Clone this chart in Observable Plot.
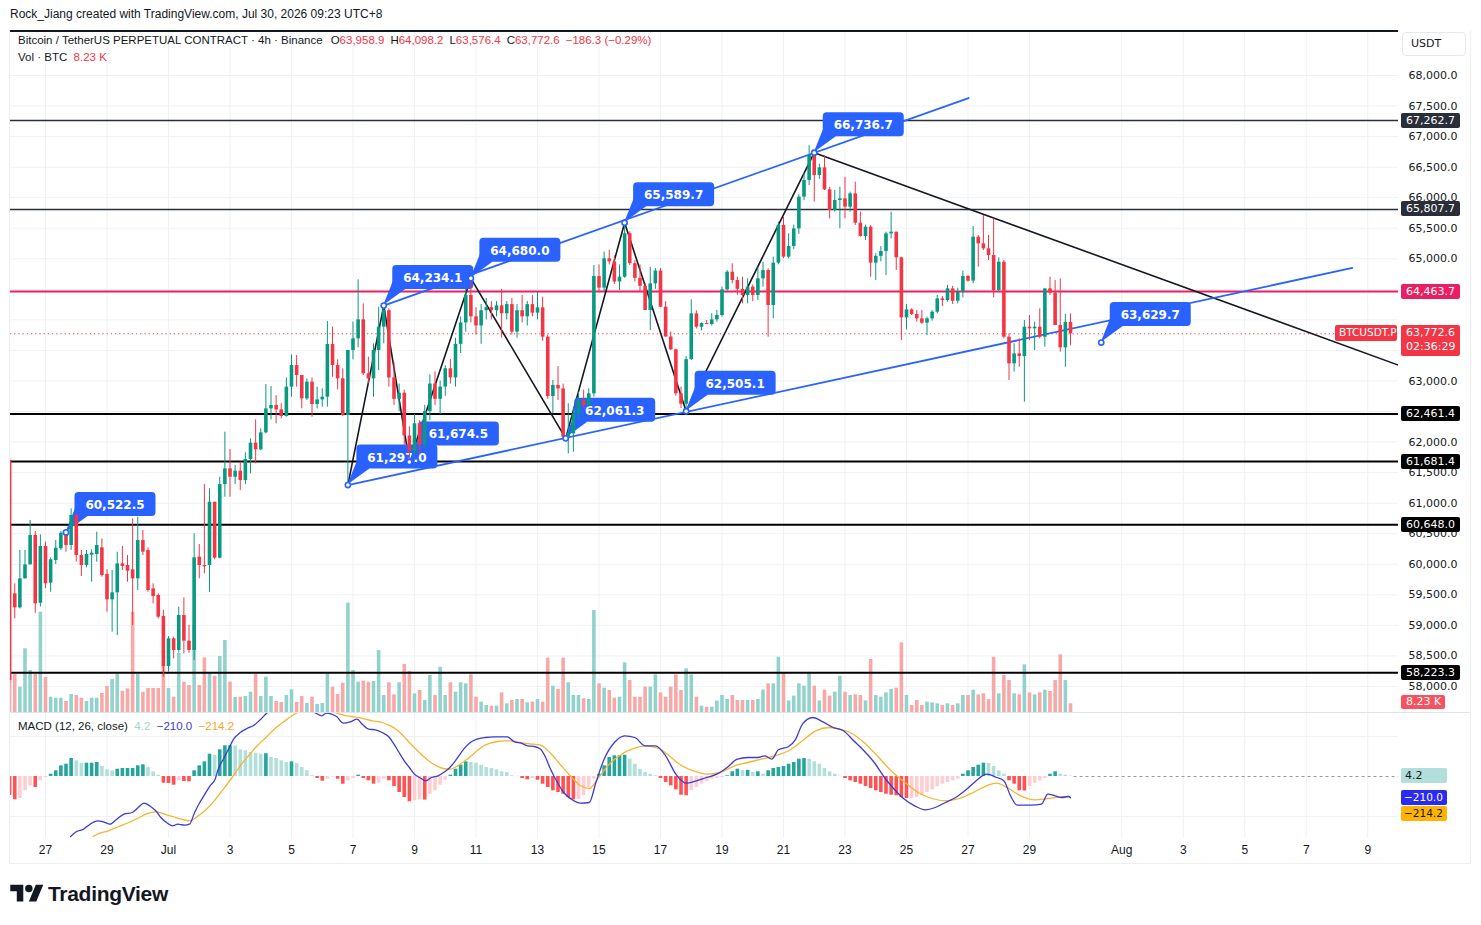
<!DOCTYPE html>
<html><head><meta charset="utf-8">
<script src="https://cdn.jsdelivr.net/npm/d3@7"></script>
<script src="https://cdn.jsdelivr.net/npm/@observablehq/plot@0.6"></script>
<style>
 html,body{margin:0;padding:0;background:#fff;}
 #root{position:relative;width:1481px;height:925px;overflow:hidden;font-family:"Liberation Sans",Arial,sans-serif;color:#131722;}
 .layer{position:absolute;left:0;}
 .txt{position:absolute;white-space:nowrap;}
 .r{color:#f23645;}
 .g{margin-left:6px;}
 .tag{position:absolute;box-sizing:border-box;font-family:"DejaVu Sans",sans-serif;font-size:11px;line-height:15px;padding-left:5px;border-radius:2px;white-space:nowrap;overflow:hidden;}
</style></head>
<body><div id="root"></div>
<script>
// ---------------- DATA ----------------
// 4h candles, index 0 = Jun 25 20:00 (chart time, UTC+8)
const opens = [
61700,59516,59287,59762,59991,60471,59363,60291,59691,60062,
60253,60509,60308,60799,60144,59980,60149,60160,60270,59833,
59418,59533,60007,59980,59909,59762,60389,60226,59598,59489,
59145,58327,58780,58589,59162,58742,58589,60116,59980,59980,
61016,60100,61305,61562,61425,61524,61371,61715,61982,61873,
62151,62544,62599,62528,62419,62899,63253,63090,62708,62981,
62615,62691,62735,63597,63253,63035,62435,63499,63690,64001,
63117,63035,63499,63881,64150,63050,62700,62800,62100,61850,
62300,61950,62500,62950,62700,62900,63200,63050,63600,63950,
64400,64050,63900,64150,64200,64150,64230,64100,64250,63800,
64150,64050,64250,64110,64197,63717,62746,62926,62870,62080,
62135,62462,62680,62600,62790,64710,64520,65000,64950,64620,
64700,65410,64920,64680,64550,64154,64590,64800,64208,63720,
63510,62790,62620,63350,64099,63880,63940,63925,64001,64072,
64492,64781,64645,64500,64399,64536,64399,64672,64808,64236,
64929,65545,65027,65201,65490,66009,66282,66691,66363,66489,
66129,65791,65954,65981,65845,66063,65583,65365,65518,64929,
65040,65120,65408,65436,65016,64033,64164,64088,64017,63946,
64017,64126,64344,64317,64508,64306,64450,64710,64634,65354,
65245,65163,65054,64481,64945,63717,63281,63444,63400,63881,
63854,63881,63717,64508,64437,63908,63542,63958.9];
const highs = [
61750,59680,60226,60226,60717,60536,60482,60362,60105,60389,
60536,60526,60908,60826,60226,60226,60237,60526,60417,59909,
59898,60198,60291,60144,60744,60771,60553,60269,59680,59516,
59243,58818,58807,59298,59451,58998,60498,60324,61305,61235,
61016,61425,62162,61878,61617,61671,61824,62053,62364,62217,
62942,62910,62762,62626,63051,63428,63417,63090,63035,63051,
62899,62872,63974,63881,63346,63199,63499,63963,64656,64262,
63390,63608,64208,64234,64180,63300,62950,62850,62250,62450,
62350,62600,63100,63150,63000,63250,63350,63700,64050,64500,
64680,64200,64250,64350,64300,64300,64500,64300,64350,64250,
64400,64300,64400,64450,64372,63750,63008,63237,62950,62626,
62571,62817,62850,62871,64890,64900,65110,65140,65050,64900,
65590,65440,64970,64900,64600,64863,64840,64840,64300,63800,
63520,62900,63400,64328,64150,63950,63990,64100,64154,64536,
64808,64918,64700,64699,64672,64570,64863,64945,64836,65027,
65600,65682,65409,65550,66050,66400,66850,66737,66550,66691,
66172,66118,66172,66336,66091,66254,65763,65550,65545,65080,
65200,65436,65763,65436,65027,64252,64181,64154,64154,64045,
64154,64399,64383,64563,64547,64520,64797,64726,65528,65381,
65709,65381,65654,65016,64972,63772,63608,63690,63990,64072,
63963,64181,64508,64699,64645,64672,64088,64098.2];
const lows = [
58050,59107,59270,59760,59990,59200,59300,59600,59544,59996,
60226,60198,60226,60035,59800,59942,59707,60035,59789,59216,
58889,58834,59898,59707,59000,59571,60144,59544,59353,59107,
58152,58234,58452,58545,58534,58545,58425,59762,59844,59543,
60073,60089,61098,61098,61305,61207,61305,61480,61644,61862,
62135,62364,62299,62381,62408,62735,62899,62544,62681,62408,
62544,62571,62571,63062,62855,62419,61297,63346,63543,63090,
62953,62735,63172,63608,62900,62600,62500,61950,61674,61750,
61800,61900,62350,62600,62450,62750,62950,62900,63450,63800,
63950,63750,63600,64000,64000,64050,63700,64000,63750,63700,
63950,63900,64050,64000,63650,62700,62462,62680,62061,61807,
61834,62353,62550,62571,62735,64450,64450,64900,64580,64480,
64680,64890,64620,64450,64150,63826,64500,64200,63717,63500,
62750,62550,62505,63335,63850,63820,63920,63900,63963,64045,
64470,64590,64400,64263,64263,64300,64317,64536,63717,64017,
64900,65000,65000,65150,65400,65950,66200,65927,66300,66118,
65654,65763,65491,65654,65763,65545,65354,65300,64699,64645,
64950,64726,65327,64808,63662,63837,64072,63963,63924,63744,
63980,64099,64219,64290,64252,64260,64361,64617,64590,64863,
65136,64972,64361,64470,63690,63008,63144,63226,62653,63662,
63499,63690,63553,64399,63908,63471,63226,63576.4];
const closes = [
58100,59287,59762,59991,60471,59353,60291,59680,60073,60264,
60509,60308,60799,60144,59980,60160,60182,60308,59816,59418,
59533,60007,59964,59887,59762,60389,60198,59571,59473,59135,
58327,58780,58589,59162,58742,58589,60106,59980,59960,61016,
60100,61305,61562,61425,61524,61371,61715,61982,61873,62151,
62544,62599,62528,62419,62899,63253,63090,62708,62981,62615,
62691,62735,63597,63253,63035,62435,63499,63690,64001,63117,
63035,63499,63881,64153,63050,62700,62800,62100,61850,62300,
61950,62500,62950,62700,62900,63200,63050,63600,63950,64400,
64050,63900,64150,64200,64150,64230,64100,64250,63800,64150,
64050,64250,64110,64197,63717,62746,62926,62870,62080,62135,
62462,62680,62600,62790,64710,64520,65000,64950,64620,64700,
65410,64920,64680,64550,64154,64590,64800,64208,63720,63510,
62790,62620,63350,64099,63880,63940,63925,64001,64072,64492,
64781,64645,64500,64399,64536,64399,64672,64808,64236,64929,
65545,65027,65201,65490,66009,66282,66691,66363,66489,66129,
65791,65954,65981,65845,66063,65583,65365,65518,64929,65040,
65120,65408,65436,65016,64033,64164,64088,64017,63946,64017,
64126,64344,64317,64508,64306,64450,64710,64634,65354,65245,
65163,65054,64481,64945,63717,63281,63444,63400,63881,63854,
63881,63717,64508,64437,63908,63542,63958.9,63772.6];
// volume, thousands of BTC
const volumes = [
36.9,35.9,23.9,60.3,39.7,35.9,94.9,33.1,14.5,13.5,
13.5,10.4,17.0,16.1,13.5,10.4,13.5,13.5,18.0,24.6,
31.2,35.9,20.1,22.4,94.9,35.9,19.2,22.7,22.7,22.7,
44.5,22.7,14.5,55.8,28.7,25.5,82.3,25.5,51.7,36.6,
34.1,53.0,68.1,28.7,14.2,14.5,15.1,19.2,35.9,15.1,
33.4,15.1,10.4,9.5,16.1,21.5,9.5,15.1,8.5,14.5,
7.6,8.5,36.6,23.9,17.0,27.7,103.4,39.7,28.7,29.6,
28.7,29.3,58.7,16.1,28.1,16.7,28.1,45.4,38.8,17.7,
20.8,11.4,35.0,16.1,42.9,16.1,28.1,19.2,28.1,27.1,
35.6,14.5,9.8,6.6,6.0,6.0,18.6,8.2,11.4,12.3,
12.3,9.1,9.8,12.3,9.8,51.4,24.9,21.8,51.4,28.1,
16.1,16.1,13.0,12.3,96.5,27.1,23.0,20.8,13.6,14.5,
47.0,30.3,14.5,14.5,24.0,24.0,35.6,18.6,14.5,24.0,
35.6,20.8,41.3,35.6,14.5,6.0,5.0,5.0,11.0,16.1,
12.3,16.1,11.4,11.4,11.4,11.4,12.3,21.2,27.1,27.1,
52.3,36.6,11.0,15.5,27.1,24.9,38.1,24.9,11.0,21.2,
15.5,19.2,34.3,19.2,16.1,16.7,16.1,11.0,50.1,16.1,
14.5,18.6,21.8,23.0,65.9,16.1,6.6,11.4,6.6,9.8,
9.1,8.2,6.6,8.2,6.6,8.2,16.1,16.1,21.2,16.7,
17.7,12.3,52.3,17.7,35.0,30.3,17.7,16.7,45.1,18.6,
16.7,18.6,21.2,19.9,30.3,54.6,30.3,8.23];
// MACD histogram per candle
const hist = [
-190,-233,-220,-143,-93,-110,-43,-10,23,57,
107,123,180,157,133,133,133,140,100,67,
57,73,80,80,80,107,117,90,47,13,
-67,-70,-87,-43,-50,-53,57,107,147,223,
213,267,307,307,305,267,257,240,233,223,
228,190,180,157,140,147,133,90,57,7,
-20,-47,-27,-7,-27,-77,-43,-20,13,-20,
-43,-77,-67,-27,-43,-100,-160,-210,-253,-243,
-233,-236,-177,-143,-87,-37,13,73,113,147,
140,133,113,90,80,67,47,40,7,2,
-20,-33,-20,-37,-77,-110,-143,-160,-177,-210,
-233,-230,-193,-110,-27,23,107,190,207,208,
213,173,123,73,40,23,7,-20,-60,-93,
-133,-187,-193,-143,-110,-77,-53,-27,-20,-10,
7,47,73,60,62,40,47,23,57,80,
90,100,123,140,173,180,173,147,123,80,
47,23,3,-20,-43,-60,-77,-100,-120,-143,
-160,-177,-187,-193,-210,-220,-218,-210,-193,-160,
-133,-100,-77,-60,-43,-27,23,57,90,113,
133,130,100,57,23,-43,-77,-143,-145,-100,
-67,-43,-20,23,47,23,13,4.2];
// MACD line, read at candle positions (index) and values
const macdIdx = [11.9,13.0,14.4,15.7,17.2,18.3,19.6,20.9,22.3,23.9,25.1,26.2,27.5,28.5,29.5,30.6,31.8,32.8,34.1,35.1,36.1,37.1,38.1,39.1,40.1,40.7,41.7,42.7,43.7,45.0,46.3,47.7,49.0,50.3,52.5,55.5,58.0,59.5,60.9,61.8,62.8,63.8,65.1,66.5,67.8,68.8,70.1,71.4,72.7,74.1,75.0,76.0,77.0,78.0,79.0,80.0,81.2,82.3,83.6,84.9,85.9,87.2,88.6,89.9,91.2,92.8,94.5,97.1,98.5,99.8,101.1,102.4,103.6,104.5,105.4,106.7,108.1,110.1,111.4,113.1,114.4,116.0,118.0,120.0,122.0,124.0,126.0,128.0,130.0,132.0,134.0,136.0,138.0,140.0,142.0,144.0,146.0,147.4,148.7,150.0,152.0,153.3,154.7,156.7,158.7,160.7,162.7,164.7,166.7,168.7,170.7,172.6,174.6,176.6,178.6,180.6,182.6,184.6,186.6,188.6,190.6,192.6,194.0,195.3,196.6,199.3,201.3,202.6,204.0,205.3,206.6,207];
const macdVal = [-600,-553,-527,-477,-443,-453,-477,-427,-377,-360,-310,-267,-300,-343,-410,-460,-493,-477,-487,-477,-360,-260,-177,-93,-27,73,173,273,373,440,480,513,573,640,700,720,690,640,607,633,623,600,533,547,573,523,473,467,440,390,323,240,157,90,23,-10,-43,-10,7,47,90,173,273,340,373,390,397,397,347,333,307,300,273,200,90,-43,-160,-243,-267,-260,-60,173,340,407,390,307,307,207,23,-67,-43,-10,23,90,173,190,190,207,173,267,300,367,523,590,547,490,457,357,257,140,-10,-127,-227,-293,-333,-310,-260,-210,-133,-43,23,-10,-43,-193,-287,-287,-277,-177,-193,-210,-200,-210];
const signalIdx = [16.3,17.6,19.3,21.3,23.3,24.9,26.6,28.5,30.2,31.8,33.5,35.1,36.8,38.4,40.1,41.7,43.4,45.0,46.7,48.3,50.0,51.6,53.3,54.9,56.2,59.0,62.0,63.5,65.1,66.8,68.1,69.4,70.8,72.7,74.0,75.4,76.7,78.0,79.3,80.6,82.0,83.3,84.6,85.9,87.2,88.6,89.9,91.2,92.5,93.8,95.2,96.5,97.8,99.1,100.4,102.1,103.6,105.4,107.4,109.4,111.4,113.1,114.7,116.7,119.4,121.4,124.0,126.7,128.7,130.7,133.4,136.0,138.7,141.4,144.0,146.7,149.3,152.0,154.7,157.3,160.0,162.0,164.0,166.7,169.3,172.0,174.7,177.3,180.0,182.6,185.3,188.0,190.6,192.6,194.6,197.3,200.0,202.6,206.6,207];
const signalVal = [-600,-567,-543,-500,-460,-420,-377,-353,-377,-400,-427,-443,-393,-327,-233,-127,-10,107,213,307,390,473,540,600,640,680,680,640,613,600,590,573,557,540,513,473,413,340,273,207,147,107,80,73,100,147,200,257,307,333,350,357,357,347,333,323,313,240,123,7,-93,-120,-27,107,223,273,307,280,207,123,57,23,40,107,140,173,207,257,357,457,490,473,440,340,207,57,-60,-160,-220,-243,-220,-160,-93,-67,-110,-193,-233,-220,-200,-214.2];
// horizontal levels
const levelPrices = [67262.7, 65807.7, 64463.7, 62461.4, 61681.4, 60648.0, 58223.3];
// zigzag path (candle index, price)
const zigIdx = [66, 73, 78, 90, 108.5, 120, 132, 157];
const zigPrice = [61297.0, 64234.1, 61674.5, 64680.0, 62061.3, 65589.7, 62505.1, 66736.7];
// price callouts (anchor index, price)
const calloutIdx = [11, 66, 78, 73, 90, 108.5, 120, 132, 157, 213];
const calloutPrice = [60522.5, 61297.0, 61674.5, 64234.1, 64680.0, 62061.3, 65589.7, 62505.1, 66736.7, 63629.7];
// trend lines
const upperIdx = [73, 187.1], upperPrice = [64234.1, 67631];
const lowerIdx = [66, 262], lowerPrice = [61297.0, 64850];
const descIdx = [157, 275], descPrice = [66736.7, 63137];
// axes
const priceTicks = [58000,58500,59000,59500,60000,60500,61000,61500,62000,62500,63000,63500,64000,64500,65000,65500,66000,66500,67000,67500,68000];
const dateTicks = ["2026-06-27","2026-06-29","2026-07-01","2026-07-03","2026-07-05","2026-07-07","2026-07-09","2026-07-11","2026-07-13","2026-07-15","2026-07-17","2026-07-19","2026-07-21","2026-07-23","2026-07-25","2026-07-27","2026-07-29","2026-08-01","2026-08-03","2026-08-05","2026-08-07","2026-08-09"];
const dateLabels = ["27","29","Jul","3","5","7","9","11","13","15","17","19","21","23","25","27","29","Aug","3","5","7","9"];
const lastPrice = 63772.6, lastVol = 8.23, lastHist = 4.2, lastMacd = -210.0, lastSignal = -214.2;

// ---------------- BUILD ----------------
const T0 = Date.UTC(2026, 5, 25, 20);
const H4 = 4 * 3600 * 1000;
const tOf = i => new Date(T0 + i * H4);
const UP = "#089981", DN = "#f23645", BLUE = "#2962ff";
const candles = opens.map((o, i) => ({t: tOf(i), o, h: highs[i], l: lows[i], c: closes[i], v: volumes[i], hist: hist[i], up: closes[i] >= o,
  hcol: hist[i] >= 0 ? (i > 0 && hist[i] < hist[i-1] ? "#b2dfdb" : "#26a69a") : (i > 0 && hist[i] > hist[i-1] ? "#ffcdd2" : "#ff5252")}));
const pts = (idx, val) => idx.map((ix, k) => ({t: tOf(ix), p: val[k]}));
const W = 1481, ML = 10, MR = 83;
const xScale = {type: "utc", domain: [tOf(0.1707), tOf(271.0)], axis: null};
const yPrice = {domain: [58000, 68000], range: [655, 44], axis: null};
const MAINH = 681;
const baseOpts = {width: W, height: MAINH, marginLeft: ML, marginRight: MR, marginTop: 0, marginBottom: 0,
  style: {background: "transparent", overflow: "visible", fontFamily: "DejaVu Sans", fontSize: "11px", color: "#131722"},
  color: {type: "identity"}};
const root = document.getElementById("root");
function addLayer(node, top) { const d = document.createElement("div"); d.className = "layer"; d.style.top = top + "px"; d.appendChild(node); root.appendChild(d); return d; }
function addTxt(html, left, top, css) { const d = document.createElement("div"); d.className = "txt"; d.style.left = left + "px"; d.style.top = top + "px"; if (css) d.style.cssText += css; d.innerHTML = html; root.appendChild(d); return d; }
const fmt = d3.format(",.1f");
const dateVals = dateTicks.map(s => new Date(s + "T00:00:00Z"));
const labelMap = new Map(dateVals.map((d, i) => [+d, dateLabels[i]]));
const GRID = "#eff1f5";
// tick labels hidden behind the last-price tag (as on the source chart)
const labelTicks = priceTicks.filter(p => Math.abs(p - lastPrice) > 300);

// Layer A: grid + price axis
const plotA = Plot.plot({...baseOpts, x: xScale, y: yPrice, marks: [
  Plot.ruleX(dateVals, {stroke: GRID}),
  Plot.ruleY(priceTicks, {stroke: GRID}),
  Plot.axisY(labelTicks, {anchor: "right", tickSize: 0, tickPadding: 10, tickFormat: fmt, label: null, fill: "#131722"})
]});
addLayer(plotA, 31);

// Layer B: volume
const plotB = Plot.plot({...baseOpts, x: xScale, y: {domain: [0, 100], range: [MAINH, MAINH - 100 / 0.946], axis: null}, marks: [
  Plot.ruleX(candles, {x: "t", y1: 0, y2: "v", stroke: d => d.up ? "#92d2cc" : "#f7a9a7", strokeWidth: 3.6, clip: true})
]});
addLayer(plotB, 31);

// Layer C: horizontal levels, trend lines, then callouts on top of the lines
const levelStroke = ["#2a2e39", "#2a2e39", "#e91e63", "#000000", "#000000", "#000000", "#000000"];
const levelWidth = [1.6, 1.6, 2, 2, 2, 2, 2];
const plotC = Plot.plot({...baseOpts, x: xScale, y: yPrice, marks: [
  Plot.ruleY(levelPrices, {stroke: (d, i) => levelStroke[i], strokeWidth: (d, i) => levelWidth[i]}),
  Plot.ruleY([lastPrice], {stroke: DN, strokeDasharray: "1.2,3", strokeWidth: 1}),
  Plot.line(pts(zigIdx, zigPrice), {x: "t", y: "p", stroke: "#131722", strokeWidth: 1.6, clip: true}),
  Plot.line(pts(descIdx, descPrice), {x: "t", y: "p", stroke: "#131722", strokeWidth: 1.6, clip: true}),
  Plot.line(pts(upperIdx, upperPrice), {x: "t", y: "p", stroke: BLUE, strokeWidth: 1.8, clip: true}),
  Plot.line(pts(lowerIdx, lowerPrice), {x: "t", y: "p", stroke: BLUE, strokeWidth: 1.8, clip: true})
]});
addLayer(plotC, 31);
{
  const sx = plotC.scale("x"), sy = plotC.scale("y");
  const g = d3.select(plotC).append("g");
  calloutIdx.forEach((ci, k) => {
    const ax = sx.apply(tOf(ci)), ay = sy.apply(calloutPrice[k]);
    const bx = ax + 9, by = ay - 40, bw = 81, bh = 24;
    g.append("path").attr("d", `M${ax},${ay}L${bx + 1},${by + bh - 9}L${bx + 13},${by + bh}Z`).attr("fill", BLUE);
    g.append("rect").attr("x", bx).attr("y", by).attr("width", bw).attr("height", bh).attr("rx", 4).attr("fill", BLUE);
    g.append("text").attr("x", bx + bw / 2).attr("y", by + bh / 2 + 1).attr("text-anchor", "middle").attr("dominant-baseline", "central")
      .attr("fill", "#fff").attr("font-family", "DejaVu Sans").attr("font-weight", "bold").attr("font-size", 12).text(fmt(calloutPrice[k]));
  });
}

// Layer D: candles + anchor dots
const plotD = Plot.plot({...baseOpts, x: xScale, y: yPrice, marks: [
  Plot.ruleX(candles, {x: "t", y1: "l", y2: "h", stroke: d => d.up ? UP : DN, strokeWidth: 1, clip: true}),
  Plot.ruleX(candles, {x: "t", y1: "o", y2: "c", stroke: d => d.up ? UP : DN, strokeWidth: 3.6, clip: true}),
  Plot.dot(pts(calloutIdx, calloutPrice), {x: "t", y: "p", r: 2.6, fill: "#fff", stroke: BLUE, strokeWidth: 1.6})
]});
addLayer(plotD, 31);

// MACD pane + time axis
const plotE = Plot.plot({width: W, height: 151, marginLeft: ML, marginRight: MR, marginTop: 1, marginBottom: 25,
  style: {background: "transparent", overflow: "visible", fontFamily: "Liberation Sans", fontSize: "12px", color: "#131722"},
  color: {type: "identity"},
  x: xScale, y: {domain: [-400, 400], range: [104, 24], axis: null},
  marks: [
    Plot.ruleX(dateVals, {stroke: GRID}),
    Plot.ruleY([400, -400], {stroke: GRID}),
    Plot.ruleX(candles, {x: "t", y1: 0, y2: "hist", stroke: "hcol", strokeWidth: 3.6, clip: true}),
    Plot.ruleY([{y: 0, x1: tOf(207.7), x2: tOf(271)}], {y: "y", x1: "x1", x2: "x2", stroke: "#9598a1", strokeDasharray: "3,3", strokeWidth: 1}),
    Plot.line(pts(signalIdx, signalVal), {x: "t", y: "p", stroke: "#f5b52e", strokeWidth: 1.3, curve: "monotone-x", clip: true}),
    Plot.line(pts(macdIdx, macdVal), {x: "t", y: "p", stroke: "#3b3bd6", strokeWidth: 1.3, curve: "monotone-x", clip: true}),
    Plot.axisX(dateVals, {tickSize: 0, tickPadding: 7, tickFormat: d => labelMap.get(+d), label: null, fill: "#131722"})
  ]});
addLayer(plotE, 712);

// ---------------- DECORATION / TEXT ----------------
function box(left, top, w, h, css) { const d = document.createElement("div"); d.style.cssText = `position:absolute;left:${left}px;top:${top}px;width:${w}px;height:${h}px;` + css; root.appendChild(d); return d; }
box(9, 30, 1462, 834, "box-sizing:border-box;border:1px solid #eceef2;border-top:none;");
box(10, 30, 1388, 2, "background:#131722;");
box(10, 712, 1460, 1, "background:#e0e3eb;");
box(1402, 32, 64, 24, "box-sizing:border-box;border:1px solid #e6e8ee;border-radius:4px;");
addTxt("USDT", 1411, 37, "font-family:'DejaVu Sans';font-size:11px;");

addTxt("Rock_Jiang created with TradingView.com, Jul 30, 2026 09:23 UTC+8", 10, 7, "font-size:12px;");
addTxt(`Bitcoin / TetherUS PERPETUAL CONTRACT · 4h · Binance<span class="g" style="margin-left:8px">O<span class="r">${fmt(opens[207])}</span></span><span class="g">H<span class="r">${fmt(highs[207])}</span></span><span class="g">L<span class="r">${fmt(lows[207])}</span></span><span class="g">C<span class="r">${fmt(closes[207])}</span></span><span class="g r">−186.3 (−0.29%)</span>`, 18, 34, "font-size:11.5px;");
addTxt(`Vol · BTC&nbsp;&nbsp;<span class="r">8.23 K</span>`, 18, 51, "font-size:11.5px;");
addTxt(`MACD (12, 26, close)&nbsp;&nbsp;<span style="color:#9fd3cb">4.2</span>&nbsp;&nbsp;<span style="color:#3b3bd6">−210.0</span>&nbsp;&nbsp;<span style="color:#f5a623">−214.2</span>`, 18, 720, "font-size:11.5px;");

// axis tags
function tag(left, cy, w, h, bg, fg, html, extra) {
  const d = document.createElement("div"); d.className = "tag";
  d.style.cssText += `left:${left}px;top:${cy - h / 2}px;width:${w}px;height:${h}px;background:${bg};color:${fg};` + (extra || "");
  d.innerHTML = html; root.appendChild(d); return d;
}
{
  const sy = plotC.scale("y");
  const tagBg = ["#2a2e39", "#2a2e39", "#e91e63", "#000", "#000", "#000", "#000"];
  levelPrices.forEach((p, k) => tag(1401, 31 + sy.apply(p), 59, 15, tagBg[k], "#fff", fmt(p)));
  const ly = 31 + sy.apply(lastPrice);
  tag(1401, ly + 7, 59, 31, DN, "#fff", `${fmt(lastPrice)}<br>02:36:29`, "line-height:14px;padding-top:1px;");
  tag(1335, ly, 62, 16, DN, "#fff", "BTCUSDT.P", "font-size:10.5px;padding-left:4px;");
  const sv = plotB.scale("y");
  tag(1401, 31 + sv.apply(lastVol) - 1, 44, 14, "#f7525f", "#fff", "8.23 K", "line-height:14px;");
  const sm = plotE.scale("y");
  tag(1401, 712 + sm.apply(lastHist), 46, 15, "#b2dfdb", "#131722", "4.2", "padding-left:4px;");
  tag(1401, 712 + sm.apply(lastMacd), 46, 15, "#2a2af0", "#fff", "−210.0", "padding-left:3px;font-size:10.5px;");
  tag(1401, 712 + sm.apply(lastSignal) + 16, 46, 15, "#ffb300", "#131722", "−214.2", "padding-left:3px;font-size:10.5px;");
}

// TradingView logo
{
  const d = document.createElement("div");
  d.style.cssText = "position:absolute;left:10px;top:881px;display:flex;align-items:center;";
  d.innerHTML = `<svg width="34" height="26" viewBox="0 0 36 28"><path d="M14 22H7V11H0V4h14v18z" fill="#131722"/><circle cx="20" cy="8" r="4" fill="#131722"/><path d="M28 22h-8l7.5-18h8L28 22z" fill="#131722"/></svg><span style="font-family:'Liberation Sans';font-weight:bold;font-size:21px;margin-left:4px;letter-spacing:-0.3px;color:#131722">TradingView</span>`;
  root.appendChild(d);
}
</script></body></html>
